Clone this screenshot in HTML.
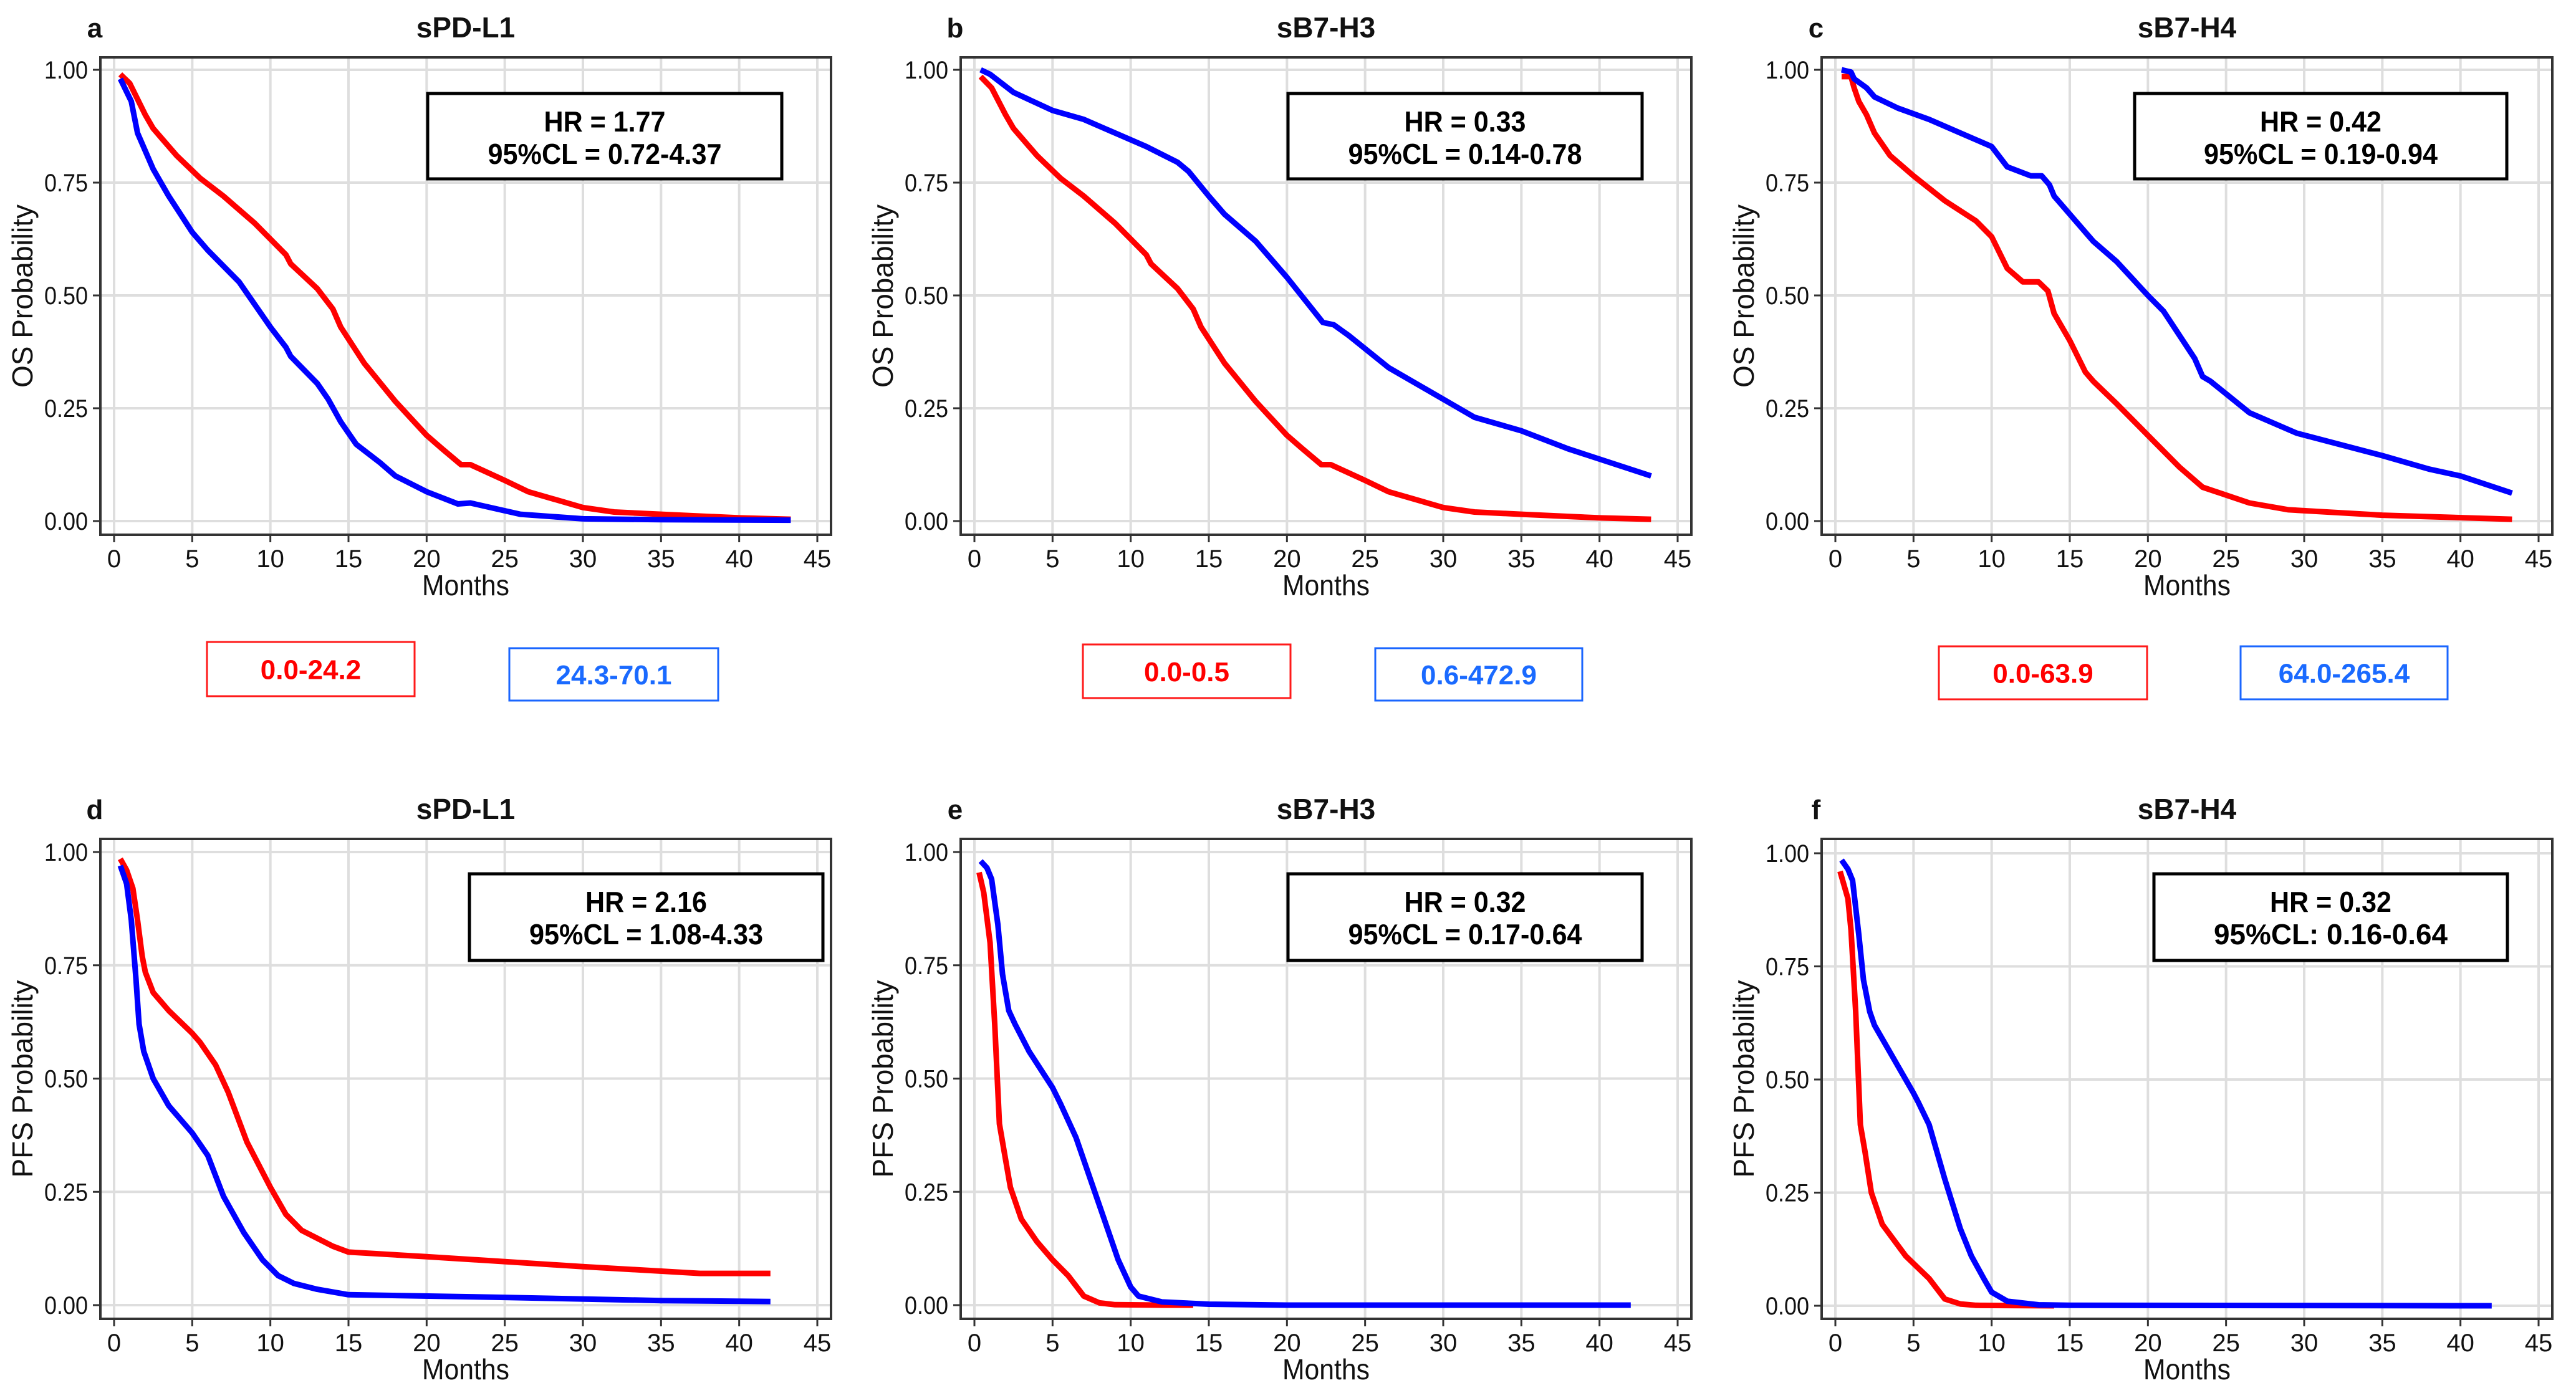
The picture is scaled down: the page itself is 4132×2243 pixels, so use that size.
<!DOCTYPE html>
<html><head><meta charset="utf-8"><style>
html,body{margin:0;padding:0;background:#fff}
svg{display:block;font-family:"Liberation Sans",Arial,sans-serif}
</style></head><body>
<svg id="fig" width="4132" height="2243" viewBox="0 0 4132 2243" xmlns="http://www.w3.org/2000/svg"></svg>
<script>
// ---- data (months, probability) ----
const xTicks = [0,5,10,15,20,25,30,35,40,45];
const yTicks = [0,0.25,0.5,0.75,1.0];
const yTickLabels = ["0.00","0.25","0.50","0.75","1.00"];

const aRedX = [0.4,1,2,2.5,4,5.5,7,9,11,11.3,13,14,14.5,16,18,20,21,22.2,22.8,25,26.5,30,32,35,40,43.3];
const aRedY = [0.99,0.97,0.90,0.87,0.81,0.76,0.72,0.66,0.59,0.57,0.515,0.47,0.43,0.35,0.265,0.19,0.16,0.125,0.125,0.09,0.065,0.03,0.02,0.015,0.007,0.004];
const aBlueX = [0.4,1.1,1.5,2.5,3.5,5,6,8,10,11,11.3,13,13.7,14.5,15.5,17,18,20,22,22.8,26,30,35,43.3];
const aBlueY = [0.98,0.93,0.86,0.78,0.72,0.64,0.60,0.53,0.43,0.385,0.365,0.305,0.27,0.22,0.17,0.13,0.10,0.065,0.038,0.04,0.015,0.005,0.003,0.002];

const bRedX = [0.4,1.1,2,2.5,4,5.5,7,9,11,11.3,13,14,14.5,16,18,20,21,22.2,22.8,25,26.5,30,32,35,40,43.3];
const bRedY = [0.985,0.96,0.90,0.87,0.81,0.76,0.72,0.66,0.59,0.57,0.515,0.47,0.43,0.35,0.265,0.19,0.16,0.125,0.125,0.09,0.065,0.03,0.02,0.015,0.007,0.004];
const bBlueX = [0.4,1,2.5,5,7,9,11,13,13.7,15,16,18,20,22.3,23,24,26.5,30,32,35,38,43.3];
const bBlueY = [1.0,0.99,0.95,0.91,0.89,0.86,0.83,0.795,0.775,0.72,0.68,0.62,0.54,0.44,0.435,0.41,0.34,0.27,0.23,0.2,0.16,0.10];

const cRedX = [0.4,1,1.2,1.5,2,2.5,3.5,5,7,9,10,11,12,13,13.6,14,15,16,16.5,18,20,22,23.5,26.5,29,35,43.3];
const cRedY = [0.985,0.985,0.96,0.93,0.90,0.86,0.81,0.765,0.71,0.665,0.63,0.56,0.53,0.53,0.51,0.46,0.40,0.33,0.31,0.26,0.19,0.12,0.075,0.04,0.025,0.013,0.004];
const cBlueX = [0.4,1,1.2,2,2.5,4,6,8,10,11,12.5,13.2,13.7,14,15,16.5,18,20,21,23,23.5,24,26.5,29.5,35,38,40,43.3];
const cBlueY = [1.0,0.995,0.98,0.96,0.94,0.915,0.89,0.86,0.83,0.785,0.765,0.765,0.745,0.72,0.68,0.62,0.575,0.50,0.465,0.36,0.32,0.31,0.24,0.195,0.145,0.115,0.10,0.062];

const dRedX = [0.4,0.8,1.2,1.5,1.8,2,2.5,3.5,5,5.5,6.5,7.3,8.5,10,11,12,14,15,20,30,37.5,42];
const dRedY = [0.985,0.96,0.92,0.85,0.77,0.735,0.69,0.65,0.60,0.58,0.53,0.47,0.36,0.26,0.20,0.165,0.13,0.117,0.107,0.085,0.07,0.07];
const dBlueX = [0.4,0.8,1.1,1.4,1.6,1.9,2.5,3.5,5,6,7,8.3,9.5,10.5,11.5,13,15,25,35,42];
const dBlueY = [0.97,0.93,0.85,0.72,0.62,0.56,0.50,0.44,0.38,0.33,0.24,0.16,0.10,0.065,0.048,0.035,0.023,0.017,0.01,0.008];

const eRedX = [0.3,0.6,1,1.3,1.6,1.9,2.3,3,4,5,6,7,8,9,12,14];
const eRedY = [0.955,0.91,0.80,0.62,0.40,0.34,0.26,0.19,0.14,0.10,0.065,0.02,0.005,0.001,0,0];
const eBlueX = [0.4,0.8,1.1,1.5,1.8,2.2,2.6,3.5,5,5.5,6.5,7.5,8.5,9.2,10,10.5,12,15,20,42];
const eBlueY = [0.98,0.965,0.94,0.84,0.73,0.65,0.62,0.56,0.48,0.445,0.37,0.27,0.17,0.10,0.04,0.02,0.007,0.002,0,0];

const fRedX = [0.3,0.8,1,1.3,1.6,1.9,2.3,3,4.5,6,7,8,9,14];
const fRedY = [0.96,0.90,0.83,0.65,0.40,0.34,0.25,0.18,0.11,0.06,0.015,0.004,0.001,0];
const fBlueX = [0.4,0.8,1.1,1.5,1.8,2.2,2.5,3.5,5,5.3,6,7,8,8.7,9.5,10,11,13,15,42];
const fBlueY = [0.985,0.965,0.94,0.82,0.72,0.65,0.62,0.56,0.47,0.45,0.40,0.28,0.17,0.11,0.06,0.03,0.01,0.002,0.001,0];

// ---- layout ----
const NS = "http://www.w3.org/2000/svg";
const svg = document.getElementById("fig");
function el(tag, attrs, parent, text){
  const e = document.createElementNS(NS, tag);
  for (const k in attrs) e.setAttribute(k, attrs[k]);
  if (text !== undefined) e.textContent = text;
  (parent||svg).appendChild(e);
  return e;
}

const panels = [
  {id:"a", title:"sPD-L1", ylab:"OS Probability", x0:183, y1:112, y0:836, top:92, bot:858, rx:aRedX, ry:aRedY, bx:aBlueX, by:aBlueY,
   hr:["HR = 1.77","95%CL = 0.72-4.37"], hrBox:[686,150,568,137], leg:[["0.0-24.2",332,1030,333,87],["24.3-70.1",817,1040,335,84]]},
  {id:"b", title:"sB7-H3", ylab:"OS Probability", x0:1563, y1:112, y0:836, top:92, bot:858, rx:bRedX, ry:bRedY, bx:bBlueX, by:bBlueY,
   hr:["HR = 0.33","95%CL = 0.14-0.78"], hrBox:[2066,150,568,137], leg:[["0.0-0.5",1737,1034,333,86],["0.6-472.9",2206,1040,332,84]]},
  {id:"c", title:"sB7-H4", ylab:"OS Probability", x0:2944, y1:112, y0:836, top:92, bot:858, rx:cRedX, ry:cRedY, bx:cBlueX, by:cBlueY,
   hr:["HR = 0.42","95%CL =  0.19-0.94"], hrBox:[3424,150,597,137], leg:[["0.0-63.9",3110,1037,334,85],["64.0-265.4",3594,1037,332,85]]},
  {id:"d", title:"sPD-L1", ylab:"PFS Probability", x0:183, y1:1367, y0:2094, top:1346, bot:2116, rx:dRedX, ry:dRedY, bx:dBlueX, by:dBlueY,
   hr:["HR = 2.16","95%CL = 1.08-4.33"], hrBox:[753,1402,567,139], leg:[]},
  {id:"e", title:"sB7-H3", ylab:"PFS Probability", x0:1563, y1:1367, y0:2094, top:1346, bot:2116, rx:eRedX, ry:eRedY, bx:eBlueX, by:eBlueY,
   hr:["HR = 0.32","95%CL = 0.17-0.64"], hrBox:[2066,1402,568,139], leg:[]},
  {id:"f", title:"sB7-H4", ylab:"PFS Probability", x0:2944, y1:1369, y0:2095, top:1346, bot:2116, rx:fRedX, ry:fRedY, bx:fBlueX, by:fBlueY,
   hr:["HR = 0.32","95%CL: 0.16-0.64"], hrBox:[3455,1402,567,139], leg:[]}
];

const PXM = 1128/45;

panels.forEach(p => {
  const g = el("g", {});
  
  
  const xs = v => p.x0 + v*PXM;
  const ys = v => p.y0 - v*(p.y0 - p.y1);
  const left = p.x0 - 22, right = p.x0 + 45*PXM + 22;

  // grid
  xTicks.forEach(t => {
    const l = el("line", {x1:xs(t), x2:xs(t), y1:p.top, y2:p.bot, stroke:"#dedede", "stroke-width":4}, g);
    
    
  });
  yTicks.forEach(t => {
    const l = el("line", {x1:left, x2:right, y1:ys(t), y2:ys(t), stroke:"#dedede", "stroke-width":4}, g);
    
    
  });

  // curves
  [[p.rx,p.ry,"#ff0000","red-curve"],[p.bx,p.by,"#0000ff","blue-curve"]].forEach(s => {
    const pts = s[0].map((x,i)=> xs(x).toFixed(1)+","+ys(s[1][i]).toFixed(1)).join(" ");
    const pl = el("polyline", {points:pts, fill:"none", stroke:s[2], "stroke-width":9, "stroke-linejoin":"round", "stroke-linecap":"butt"}, g);
    
    
  });
  // the blue drawn on top in top panels
  // frame
  const fr = el("rect", {x:left, y:p.top, width:right-left, height:p.bot-p.top, fill:"none", stroke:"#333", "stroke-width":4}, g);
  
  

  // ticks + labels
  xTicks.forEach(t => {
    el("line", {x1:xs(t), x2:xs(t), y1:p.bot, y2:p.bot+12, stroke:"#333", "stroke-width":3}, g);
    const tx = el("text", {x:xs(t), y:p.bot+52, "font-size":40, "text-anchor":"middle", fill:"#111"}, g, String(t));
    
    
  });
  yTicks.forEach((t,i) => {
    el("line", {x1:left-12, x2:left, y1:ys(t), y2:ys(t), stroke:"#333", "stroke-width":3}, g);
    const tx = el("text", {x:p.x0-42, y:ys(t)+14, "font-size":40, "text-anchor":"end", fill:"#111", textLength:70, lengthAdjust:"spacingAndGlyphs"}, g, yTickLabels[i]);
    
    
  });
  const xt = el("text", {x:p.x0+564, y:p.bot+97, "font-size":46, "text-anchor":"middle", fill:"#111", textLength:140, lengthAdjust:"spacingAndGlyphs"}, g, "Months");
  
  
  const yc = (p.top+p.bot)/2, yx = p.x0-147;
  const yt = el("text", {x:yx, y:yc+16, "font-size":46, "text-anchor":"middle", fill:"#111", transform:`rotate(-90 ${yx} ${yc})`}, g, p.ylab);
  
  

  // title & letter
  const ti = el("text", {x:p.x0+564, y:p.top-32, "font-size":46, "font-weight":"bold", "text-anchor":"middle", fill:"#111"}, g, p.title);
  
  
  const le = el("text", {x:p.x0-31, y:p.top-32, "font-size":44, "font-weight":"bold", "text-anchor":"middle", fill:"#111"}, g, p.id);
  
  

  // HR box
  const hb = p.hrBox;
  const hrR = el("rect", {x:hb[0], y:hb[1], width:hb[2], height:hb[3], fill:"#fff", stroke:"#000", "stroke-width":5}, g);
  
  
  const cx = hb[0]+hb[2]/2;
  const h1 = el("text", {x:cx, y:hb[1]+61, "font-size":46, "font-weight":"bold", "text-anchor":"middle", fill:"#000", textLength:195, lengthAdjust:"spacingAndGlyphs"}, g, p.hr[0]);
  
  
  const h2 = el("text", {x:cx, y:hb[1]+113, "font-size":46, "font-weight":"bold", "text-anchor":"middle", fill:"#000", textLength:375, lengthAdjust:"spacingAndGlyphs"}, g, p.hr[1]);
  
  

  // legend boxes
  p.leg.forEach((L,i) => {
    const col = i===0 ? "#ff1a1a" : "#1a66ff";
    const tcol = i===0 ? "#ff0000" : "#1a6aff";
    const r = el("rect", {x:L[1], y:L[2], width:L[3], height:L[4], fill:"#fff", stroke:col, "stroke-width":3}, g);
    
    
    const t = el("text", {x:L[1]+L[3]/2, y:L[2]+L[4]/2+16, "font-size":44, "font-weight":"bold", "text-anchor":"middle", fill:tcol}, g, L[0]);
    
    
  });
});
</script>
</body></html>
